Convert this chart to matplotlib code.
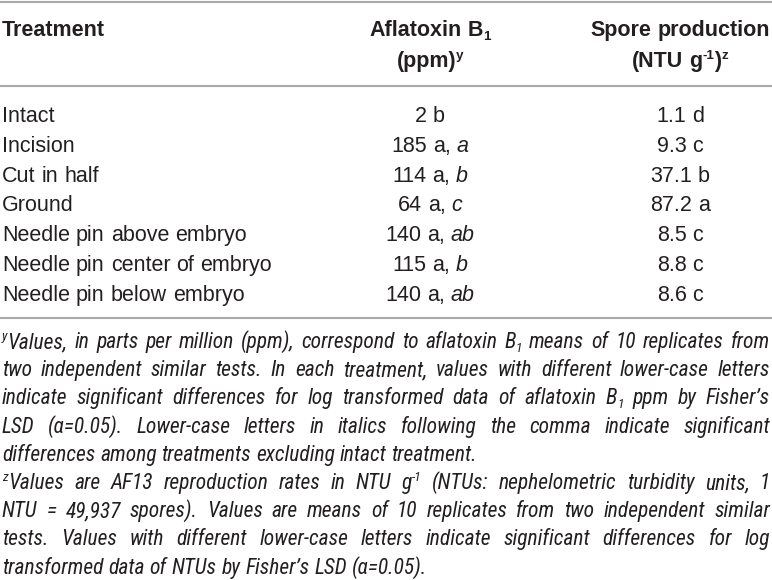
import re
import matplotlib.pyplot as plt
from matplotlib import font_manager

treatments = ["Intact", "Incision", "Cut in half", "Ground",
              "Needle pin above embryo", "Needle pin center of embryo", "Needle pin below embryo"]
aflatoxin_ppm = [2, 185, 114, 64, 140, 115, 140]
aflatoxin_group = ["b", "a", "a", "a", "a", "a", "a"]
aflatoxin_group_excl = ["", "a", "b", "c", "ab", "b", "ab"]
spore_ntu = [1.1, 9.3, 37.1, 87.2, 8.5, 8.8, 8.6]
spore_group = ["d", "c", "b", "a", "c", "c", "c"]

headers = [["Treatment"], ["Aflatoxin B_{1}", "(ppm)^{y}"], ["Spore production", "(NTU g^{-1})^{z}"]]

# footnotes, one entry per printed line; last line of each paragraph is not justified
footnotes = [
    ("^{y}Values, in parts per million (ppm), correspond to aflatoxin B_{1} means of 10 replicates from", True),
    ("two independent similar tests. In each treatment, values with different lower-case letters", True),
    ("indicate significant differences for log transformed data of aflatoxin B_{1} ppm by Fisher’s", True),
    ("LSD (α=0.05). Lower-case letters in italics following the comma indicate significant", True),
    ("differences among treatments excluding intact treatment.", False),
    ("^{z}Values are AF13 reproduction rates in NTU g^{-1} (NTUs: nephelometric turbidity units, 1", True),
    ("NTU = 49,937 spores). Values are means of 10 replicates from two independent similar", True),
    ("tests. Values with different lower-case letters indicate significant differences for log", True),
    ("transformed data of NTUs by Fisher’s LSD (α=0.05).", False),
]

W, H = 772, 580
INK = "#231f20"
RULE = "#a9a9a9"
SIZE = 15.5


def pick(names):
    for n in names:
        try:
            font_manager.findfont(font_manager.FontProperties(family=n), fallback_to_default=False)
            return [n, "DejaVu Sans"]
        except Exception:
            pass
    return ["DejaVu Sans"]


BODY = pick(["Liberation Sans", "Arial"])
NARROW = pick(["Liberation Sans Narrow", "Roboto Condensed", "Open Sans Condensed",
               "DejaVu Sans Condensed", "Liberation Sans"])

fig = plt.figure(figsize=(W / 100, H / 100), dpi=100)
ax = fig.add_axes([0, 0, 1, 1])
ax.set_xlim(0, W)
ax.set_ylim(H, 0)
ax.axis("off")
renderer = fig.canvas.get_renderer()


def parse(word):
    runs = []
    for part in re.split(r"(\^\{[^}]*\}|_\{[^}]*\}|\*\{[^}]*\})", word):
        if not part:
            continue
        if part.startswith("^{"):
            runs.append((part[2:-1], "sup"))
        elif part.startswith("_{"):
            runs.append((part[2:-1], "sub"))
        elif part.startswith("*{"):
            runs.append((part[2:-1], "it"))
        else:
            runs.append((part, "n"))
    return runs


def draw_word(x, y, word, size, style="normal", weight="normal", family=BODY, draw=True):
    px = size * 100 / 72
    x0 = x
    for txt, kind in parse(word):
        s = size * 0.62 if kind in ("sup", "sub") else size
        dy = {"sup": -0.36 * px, "sub": 0.18 * px}.get(kind, 0)
        st = "italic" if kind == "it" else style
        t = ax.text(x, y + dy, txt, fontsize=s, fontstyle=st, fontweight=weight,
                    family=family, va="baseline", ha="left", color=INK)
        w = t.get_window_extent(renderer).width
        if not draw:
            t.remove()
        x += w
    return x - x0


def space_width(size, style, weight, family):
    a = draw_word(0, 0, "aa", size, style, weight, family, draw=False)
    b = draw_word(0, 0, "a a", size, style, weight, family, draw=False)
    return b - a


def draw_line(x, y, text, size, style="normal", weight="normal", family=BODY, ha="left"):
    words = text.split(" ")
    sp = space_width(size, style, weight, family)
    widths = [draw_word(0, 0, w, size, style, weight, family, draw=False) for w in words]
    total = sum(widths) + sp * (len(words) - 1)
    if ha == "center":
        x = x - total / 2
    for w, wd in zip(words, widths):
        draw_word(x, y, w, size, style, weight, family)
        x += wd + sp


# rules
for yy in (1.5, 86, 318):
    ax.hlines(yy, 0, W, color=RULE, linewidth=1.5)

# header
col_x = [2, 430, 680]
draw_line(col_x[0], 36, headers[0][0], SIZE, weight="bold")
for c in (1, 2):
    for k, txt in enumerate(headers[c]):
        draw_line(col_x[c], 36 + 30.5 * k, txt, SIZE, weight="bold", ha="center")

# body rows
for i, name in enumerate(treatments):
    yb = 122 + 29.8 * i
    draw_line(col_x[0], yb, name, SIZE)
    cell = f"{aflatoxin_ppm[i]} {aflatoxin_group[i]}"
    if aflatoxin_group_excl[i]:
        cell += f", *{{{aflatoxin_group_excl[i]}}}"
    draw_line(col_x[1], yb, cell, SIZE, ha="center")
    draw_line(col_x[2], yb, f"{spore_ntu[i]:.1f} {spore_group[i]}", SIZE, ha="center")

# footnotes, justified
fx0, fx1 = 2, 770
fsize = SIZE
sp = space_width(fsize, "italic", "normal", NARROW)
widest = 0
for text, just in footnotes:
    words = text.split(" ")
    tot = sum(draw_word(0, 0, w, fsize, "italic", "normal", NARROW, draw=False) for w in words)
    widest = max(widest, tot + sp * (len(words) - 1))
if widest > fx1 - fx0:
    fsize *= (fx1 - fx0) / widest * 0.995
    sp = space_width(fsize, "italic", "normal", NARROW)

for j, (text, just) in enumerate(footnotes):
    yb = 348 + 28.2 * j
    words = text.split(" ")
    widths = [draw_word(0, 0, w, fsize, "italic", "normal", NARROW, draw=False) for w in words]
    gap = sp
    if just and len(words) > 1:
        gap = (fx1 - fx0 - sum(widths)) / (len(words) - 1)
    x = fx0
    for w, wd in zip(words, widths):
        draw_word(x, yb, w, fsize, "italic", "normal", NARROW)
        x += wd + gap

fig.savefig("out.png", dpi=100)
